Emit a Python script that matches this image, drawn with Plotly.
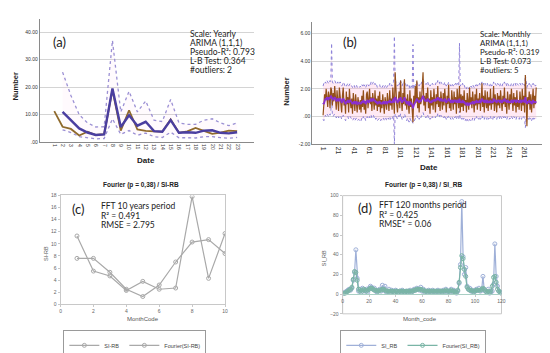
import plotly.graph_objects as go

W, H = 550, 353

# ---------------- Panel (a): yearly ----------------
years_a = list(range(1, 24))
obs_a = [11.3, 5.6, 4.8, 2.4, 3.8, 2.6, 2.9, 19.0, 4.2, 11.6, 4.6, 4.1, 3.9, 3.8, 8.3, 3.4, 3.9, 5.2, 4.1, 3.0, 3.5, 4.2, 4.0]
fit_a = [None, 11.0, 8.0, 5.0, 3.5, 2.6, 2.8, 19.5, 5.5, 9.8, 6.0, 7.4, 4.0, 3.8, 8.0, 3.4, 3.6, 3.4, 4.2, 4.3, 3.4, 3.2, 3.6]
ucl_a = [None, 25.5, 17.0, 10.0, 7.0, 5.5, 5.6, 37.0, 11.0, 18.5, 11.0, 15.0, 8.0, 7.5, 15.5, 7.0, 6.5, 6.5, 8.0, 8.5, 7.0, 6.0, 7.0]
lcl_a = [None, 4.5, 3.5, 2.0, 1.5, 1.2, 1.3, 8.5, 2.8, 4.2, 2.5, 3.3, 2.0, 1.7, 3.6, 1.6, 1.6, 1.5, 2.0, 2.0, 1.6, 1.4, 1.7]
yticks_a = [0, 10, 20, 30, 40]
yticklabels_a = [".00", "10.00", "20.00", "30.00", "40.00"]

# ---------------- Panel (b): monthly ----------------
months_b = list(range(1, 277))
obs_b = [
    0.1, 0.9, 1.6, 1.2, 2.0, 1.4, 0.7, 1.8, 1.5, 0.6, 2.1, 1.9,
    0.8, 1.7, 1.1, 2.2, 1.3, 0.5, 1.9, 1.0, 0.4, 2.1, 1.6, 0.9,
    0.3, 1.5, 2.1, 0.8, 1.2, 0.2, 1.8, 0.9, 1.4, 0.3, 2.0, 1.1,
    0.6, 1.3, 0.2, 1.7, 0.9, 0.4, 1.6, 1.1, 0.3, 1.4, 0.8, 0.5,
    1.2, 0.3, 1.5, 0.7, 1.9, 0.5, 1.1, 0.2, 1.6, 1.8, 0.6, 1.3,
    2.0, 0.9, 1.4, 0.4, 1.7, 1.2, 0.5, 1.9, 0.8, 1.3, 0.4, 1.5,
    0.7, 1.8, 0.3, 1.2, 0.6, 1.6, 1.0, 0.2, 1.4, 0.9, 0.5, 1.7,
    1.1, 0.4, 1.9, 0.8, 1.3, 0.5, 2.1, 1.0, 0.2, 3.2, 1.5, 0.9,
    0.3, 1.4, 1.8, 0.6, 2.6, 1.2, 0.4, 1.7, 0.9, 2.7, 0.8, 1.3,
    0.5, 1.6, 1.1, 0.2, 1.9, 0.7, 1.3, 0.4, -0.4, 1.5, 0.9, 2.2,
    1.0, 2.6, 0.6, 1.4, 0.3, 1.8, 0.9, 1.2, 2.0, 3.2, 0.8, 1.5,
    0.4, 1.7, 1.1, 2.1, 0.6, 1.3, 0.2, 1.9, 0.8, 1.4, 0.5, 2.0,
    1.2, 0.3, 1.6, 0.9, 2.2, 0.7, 1.4, 0.4, 1.8, 1.0, 0.5, 1.7,
    0.8, 2.0, 1.3, 0.3, 1.5, 0.9, 2.3, 0.6, 1.2, 0.4, 1.9, 1.1,
    0.5, 1.8, 0.9, 1.4, 0.2, 2.0, 1.1, 0.6, 2.2, 0.3, 1.6, 0.7,
    1.5, 0.4, 1.9, 0.8, 1.2, 0.3, 1.7, 1.0, 0.5, 2.1, 0.9, 1.4,
    0.6, 1.8, 1.2, 0.3, 1.6, 0.8, 2.0, 0.5, 1.3, 0.9, 1.7, 0.4,
    1.1, 2.4, 0.7, 1.5, 0.3, 1.9, 1.0, 0.6, 1.8, 0.4, 1.4, 0.8,
    2.0, 0.5, 1.3, 0.9, 2.2, 0.4, 1.6, 1.1, 0.3, 1.7, 0.8, 1.5,
    0.6, 1.9, 1.2, 0.4, 1.5, 0.9, 2.1, 0.7, 1.3, 0.2, 1.8, 1.0,
    0.5, 1.6, 0.9, 2.0, 1.1, 0.4, 1.7, 0.8, 1.4, 0.3, 1.9, 0.7,
    1.2, 0.5, 1.8, 1.0, 0.4, 2.0, 0.8, 1.5, 0.3, 3.0, 0.6, -0.7,
    1.4, 0.9, 1.8, 0.5, 1.6, 0.3, 1.2, 2.0, 0.6, 1.5, 0.9, 2.1,
]
fit_b = [
    1.0, 0.9, 1.1, 1.3, 1.2, 1.4, 1.3, 1.2, 1.4, 1.3, 1.5, 1.4,
    1.3, 1.2, 1.3, 1.4, 1.3, 1.1, 1.2, 1.3, 1.1, 1.2, 1.3, 1.2,
    1.0, 1.1, 1.3, 1.2, 1.1, 0.9, 1.0, 1.1, 1.2, 1.0, 1.1, 1.2,
    1.1, 1.0, 0.9, 1.0, 1.1, 0.9, 1.0, 1.1, 0.9, 1.0, 1.0, 0.9,
    1.0, 0.9, 1.1, 1.0, 1.2, 1.0, 1.1, 0.9, 1.0, 1.2, 1.1, 1.0,
    1.2, 1.1, 1.3, 1.1, 1.2, 1.3, 1.1, 1.2, 1.0, 1.1, 0.9, 1.0,
    1.0, 1.1, 0.9, 1.0, 0.9, 1.0, 1.1, 0.9, 1.0, 1.1, 0.9, 1.0,
    1.1, 1.0, 1.2, 1.0, 1.1, 1.0, 1.2, 1.3, 1.0, 1.4, 1.3, 1.1,
    1.0, 1.1, 1.3, 1.1, 1.4, 1.2, 1.0, 1.2, 1.1, 1.4, 1.2, 1.1,
    0.9, 1.1, 1.0, 0.8, 1.1, 0.9, 1.0, 0.7, 0.6, 0.8, 0.9, 1.1,
    1.1, 1.3, 1.1, 1.2, 1.0, 1.2, 1.1, 1.2, 1.3, 1.5, 1.3, 1.2,
    1.1, 1.2, 1.1, 1.3, 1.1, 1.2, 1.0, 1.1, 1.0, 1.2, 1.1, 1.2,
    1.2, 1.1, 1.3, 1.2, 1.4, 1.2, 1.3, 1.1, 1.3, 1.2, 1.1, 1.2,
    1.1, 1.3, 1.2, 1.0, 1.2, 1.1, 1.3, 1.2, 1.1, 1.0, 1.2, 1.1,
    1.0, 1.2, 1.1, 1.2, 1.0, 1.2, 1.1, 1.0, 1.3, 1.0, 1.1, 1.0,
    1.2, 1.0, 1.1, 0.9, 1.0, 0.8, 1.0, 0.9, 0.8, 1.0, 0.9, 1.0,
    0.9, 1.1, 1.0, 0.9, 1.1, 1.0, 1.2, 1.0, 1.1, 1.0, 1.2, 1.0,
    1.1, 1.3, 1.1, 1.2, 1.0, 1.2, 1.1, 1.0, 1.2, 1.0, 1.1, 1.0,
    1.2, 1.0, 1.1, 1.0, 1.3, 1.1, 1.2, 1.1, 1.0, 1.2, 1.1, 1.2,
    1.0, 1.2, 1.1, 1.0, 1.2, 1.1, 1.3, 1.1, 1.2, 1.0, 1.2, 1.1,
    1.0, 1.1, 1.0, 1.2, 1.1, 1.0, 1.2, 1.1, 1.2, 1.0, 1.2, 1.1,
    1.1, 1.0, 1.2, 1.1, 1.0, 1.2, 1.1, 1.2, 1.0, 1.4, 1.2, 0.9,
    1.1, 1.0, 1.2, 1.0, 1.1, 0.9, 1.0, 1.2, 1.0, 1.1, 1.0, 1.1,
]
ucl_b = [
    2.2, 2.4, 2.3, 2.5, 2.4, 2.6, 2.5, 2.4, 2.6, 2.5, 2.7, 5.3,
    2.5, 2.4, 2.5, 2.6, 2.5, 2.3, 2.4, 2.5, 2.3, 2.4, 2.5, 2.4,
    2.2, 2.3, 2.5, 2.4, 2.3, 2.1, 2.2, 2.3, 2.4, 2.2, 2.3, 2.4,
    2.3, 2.2, 2.1, 2.2, 2.3, 2.1, 2.2, 2.3, 2.1, 2.2, 2.2, 2.1,
    2.2, 2.1, 2.3, 2.2, 2.4, 2.2, 2.3, 2.1, 2.2, 2.4, 2.3, 2.2,
    2.4, 2.3, 2.5, 2.3, 2.4, 2.5, 2.3, 2.4, 2.2, 2.3, 2.1, 2.2,
    2.2, 2.3, 2.1, 2.2, 2.1, 2.2, 2.3, 2.1, 2.2, 2.3, 2.1, 2.2,
    2.3, 2.2, 2.4, 2.2, 2.3, 2.2, 2.4, 2.5, 5.8, 2.6, 2.5, 2.3,
    2.2, 2.3, 2.5, 2.3, 2.6, 2.4, 2.2, 2.4, 2.3, 2.6, 2.4, 2.3,
    2.1, 2.3, 2.2, 2.0, 2.3, 2.1, 2.2, 2.0, 5.2, 2.0, 2.1, 2.3,
    2.3, 2.5, 2.3, 2.4, 2.2, 2.4, 2.3, 2.4, 2.5, 2.7, 2.5, 2.4,
    2.3, 2.4, 2.3, 2.5, 2.3, 2.4, 2.2, 2.3, 2.2, 2.4, 2.3, 2.4,
    2.4, 2.3, 2.5, 2.4, 2.6, 2.4, 2.5, 2.3, 2.5, 2.4, 2.3, 2.4,
    2.3, 2.5, 2.4, 2.2, 2.4, 2.3, 2.5, 2.4, 2.3, 2.2, 2.4, 2.3,
    2.2, 2.4, 2.3, 2.4, 2.2, 2.4, 2.3, 2.2, 5.3, 2.2, 2.3, 2.2,
    2.4, 2.2, 2.3, 2.1, 2.2, 2.0, 2.2, 2.1, 2.0, 2.2, 2.1, 2.2,
    2.1, 2.3, 2.2, 2.1, 2.3, 2.2, 2.4, 2.2, 2.3, 2.2, 2.4, 2.2,
    2.3, 2.5, 2.3, 2.4, 2.2, 2.4, 2.3, 2.2, 2.4, 2.2, 2.3, 2.2,
    2.4, 2.2, 2.3, 2.2, 2.5, 2.3, 2.4, 2.3, 2.2, 2.4, 2.3, 2.4,
    2.2, 2.4, 2.3, 2.2, 2.4, 2.3, 2.5, 2.3, 2.4, 2.2, 2.4, 2.3,
    2.2, 2.3, 2.2, 2.4, 2.3, 2.2, 2.4, 2.3, 2.4, 2.2, 2.4, 2.3,
    2.3, 2.2, 2.4, 2.3, 2.2, 2.4, 2.3, 2.4, 2.2, 3.0, 2.4, 2.1,
    2.3, 2.2, 2.4, 2.2, 2.3, 2.1, 2.2, 2.4, 2.2, 2.3, 2.2, 2.3,
]
lcl_b = [
    -0.2, -0.3, -0.1, 0.1, 0.0, 0.2, 0.1, 0.0, 0.2, 0.1, 0.3, 1.5,
    0.1, 0.0, 0.1, 0.2, 0.1, -0.1, 0.0, 0.1, -0.1, 0.0, 0.1, 0.0,
    -0.2, -0.1, 0.1, 0.0, -0.1, -0.3, -0.2, -0.1, 0.0, -0.2, -0.1, 0.0,
    -0.1, -0.2, -0.3, -0.2, -0.1, -0.3, -0.2, -0.1, -0.3, -0.2, -0.2, -0.3,
    -0.2, -0.3, -0.1, -0.2, 0.0, -0.2, -0.1, -0.3, -0.2, 0.0, -0.1, -0.2,
    0.0, -0.1, 0.1, -0.1, 0.0, 0.1, -0.1, 0.0, -0.2, -0.1, -0.3, -0.2,
    -0.2, -0.1, -0.3, -0.2, -0.3, -0.2, -0.1, -0.3, -0.2, -0.1, -0.3, -0.2,
    -0.1, -0.2, 0.0, -0.2, -0.1, -0.2, 0.0, 0.1, -2.0, 0.2, 0.1, -0.1,
    -0.2, -0.1, 0.1, -0.1, 0.2, 0.0, -0.2, 0.0, -0.1, 0.2, 0.0, -0.1,
    -0.3, -0.1, -0.2, -0.4, -0.1, -0.3, -0.2, -0.4, -0.5, -0.4, -0.3, -0.1,
    -0.1, 0.1, -0.1, 0.0, -0.2, 0.0, -0.1, 0.0, 0.1, 0.3, 0.1, 0.0,
    -0.1, 0.0, -0.1, 0.1, -0.1, 0.0, -0.2, -0.1, -0.2, 0.0, -0.1, 0.0,
    0.0, -0.1, 0.1, 0.0, 0.2, 0.0, 0.1, -0.1, 0.1, 0.0, -0.1, 0.0,
    -0.1, 0.1, 0.0, -0.2, 0.0, -0.1, 0.1, 0.0, -0.1, -0.2, 0.0, -0.1,
    -0.2, 0.0, -0.1, 0.0, -0.2, 0.0, -0.1, -0.2, 0.4, -0.2, -0.1, -0.2,
    0.0, -0.2, -0.1, -0.3, -0.2, -0.4, -0.2, -0.3, -0.4, -0.2, -0.3, -0.2,
    -0.3, -0.1, -0.2, -0.3, -0.1, -0.2, 0.0, -0.2, -0.1, -0.2, 0.0, -0.2,
    -0.1, 0.1, -0.1, 0.0, -0.2, 0.0, -0.1, -0.2, 0.0, -0.2, -0.1, -0.2,
    0.0, -0.2, -0.1, -0.2, 0.1, -0.1, 0.0, -0.1, -0.2, 0.0, -0.1, 0.0,
    -0.2, 0.0, -0.1, -0.2, 0.0, -0.1, 0.1, -0.1, 0.0, -0.2, 0.0, -0.1,
    -0.2, -0.1, -0.2, 0.0, -0.1, -0.2, 0.0, -0.1, 0.0, -0.2, 0.0, -0.1,
    -0.1, -0.2, 0.0, -0.1, -0.2, 0.0, -0.1, 0.0, -0.2, -0.8, 0.0, -0.3,
    -0.1, -0.2, 0.0, -0.2, -0.1, -0.3, -0.2, 0.0, -0.2, -0.1, -0.2, -0.1,
]
xticks_b = [1, 21, 41, 61, 81, 101, 121, 141, 161, 181, 201, 221, 241, 261]
yticks_b = [-2, 0, 2, 4, 6]
yticklabels_b = ["-2.00", ".00", "2.00", "4.00", "6.00"]

# ---------------- Panel (c): Fourier yearly ----------------
code_c = [1, 2, 3, 4, 5, 6, 7, 8, 9, 10]
si_rb_c = [11.3, 5.5, 4.7, 2.3, 3.8, 2.5, 2.7, 17.8, 4.3, 11.7]
fourier_c = [7.6, 7.6, 5.3, 2.5, 1.3, 3.2, 7.0, 10.3, 10.7, 8.4]

# ---------------- Panel (d): Fourier monthly ----------------
code_d = list(range(1, 121))
si_rb_d = [
    1, 2, 3, 4, 5, 4, 6, 14, 22, 45, 16, 3,
    5, 2, 6, 4, 3, 5, 2, 6, 8, 7, 5, 6,
    3, 2, 4, 5, 3, 9, 4, 8, 2, 3, 5, 2,
    4, 3, 2, 4, 3, 2, 3, 2, 4, 3, 2, 3,
    2, 3, 4, 2, 3, 5, 4, 6, 5, 4, 7, 3,
    5, 2, 3, 2, 4, 3, 2, 4, 3, 2, 3, 4,
    2, 3, 2, 4, 3, 5, 2, 3, 2, 5, 3, 4,
    2, 1, 3, 11, 30, 94, 38, 20, 27, 8, 5, 6,
    3, 4, 2, 3, 5, 4, 6, 3, 4, 18, 4, 3,
    2, 5, 1, 2, 3, 10, 51, 18, 8, 3, 2, 1,
]
fourier_d = [
    1, 1, 2, 3, 4, 5, 7, 15, 23, 22, 14, 5,
    3, 4, 3, 5, 4, 3, 4, 5, 6, 6, 5, 4,
    4, 3, 3, 4, 4, 5, 5, 4, 3, 3, 3, 3,
    3, 3, 2, 3, 3, 2, 3, 3, 3, 3, 2, 3,
    3, 3, 3, 3, 3, 4, 4, 5, 5, 5, 5, 4,
    4, 3, 3, 3, 3, 3, 3, 3, 3, 3, 3, 3,
    3, 3, 3, 3, 3, 4, 3, 3, 3, 4, 3, 3,
    2, 2, 4, 12, 27, 39, 36, 25, 18, 7, 5, 4,
    4, 3, 3, 3, 4, 4, 4, 4, 5, 6, 5, 3,
    2, 3, 2, 3, 8, 17, 18, 12, 5, 3, 2, 1,
]


def px(x, y):
    return x / W, 1 - y / H


def dom_x(a, b):
    return [a / W, b / W]


def dom_y(top, bottom):
    return [1 - bottom / H, 1 - top / H]


fig = go.Figure()

# Panel (a) traces
fig.add_trace(go.Scatter(x=years_a, y=lcl_a, mode="lines", line=dict(width=0), showlegend=False,
                         xaxis="x", yaxis="y", hoverinfo="skip"))
fig.add_trace(go.Scatter(x=years_a, y=ucl_a, mode="lines", line=dict(width=0), fill="tonexty",
                         fillcolor="rgba(255,180,220,0.07)", showlegend=False, xaxis="x", yaxis="y",
                         hoverinfo="skip"))
fig.add_trace(go.Scatter(x=years_a, y=ucl_a, mode="lines", line=dict(color="#9b90d4", width=1.3, dash="dot"),
                         showlegend=False, xaxis="x", yaxis="y"))
fig.add_trace(go.Scatter(x=years_a, y=lcl_a, mode="lines", line=dict(color="#9b90d4", width=1.3, dash="dot"),
                         showlegend=False, xaxis="x", yaxis="y"))
fig.add_trace(go.Scatter(x=years_a, y=obs_a, mode="lines", line=dict(color="#8f6a2c", width=1.8),
                         showlegend=False, xaxis="x", yaxis="y"))
fig.add_trace(go.Scatter(x=years_a, y=fit_a, mode="lines", line=dict(color="#4a3ea0", width=2.4),
                         showlegend=False, xaxis="x", yaxis="y"))

# Panel (b) traces
fig.add_trace(go.Scatter(x=months_b, y=lcl_b, mode="lines", line=dict(width=0), showlegend=False,
                         xaxis="x2", yaxis="y2", hoverinfo="skip"))
fig.add_trace(go.Scatter(x=months_b, y=ucl_b, mode="lines", line=dict(width=0), fill="tonexty",
                         fillcolor="rgba(255,175,215,0.28)", showlegend=False, xaxis="x2", yaxis="y2",
                         hoverinfo="skip"))
fig.add_trace(go.Scatter(x=months_b, y=ucl_b, mode="lines", line=dict(color="#8c82d8", width=1, dash="dot"),
                         showlegend=False, xaxis="x2", yaxis="y2"))
fig.add_trace(go.Scatter(x=months_b, y=lcl_b, mode="lines", line=dict(color="#8c82d8", width=1, dash="dot"),
                         showlegend=False, xaxis="x2", yaxis="y2"))
fig.add_trace(go.Scatter(x=months_b, y=obs_b, mode="lines", line=dict(color="#94501a", width=1.2),
                         showlegend=False, xaxis="x2", yaxis="y2"))
fig.add_trace(go.Scatter(x=months_b, y=fit_b, mode="lines", line=dict(color="#8a2fd0", width=1.8),
                         showlegend=False, xaxis="x2", yaxis="y2"))

# Panel (c) traces
gray = "#a9a9a9"
fig.add_trace(go.Scatter(x=code_c, y=si_rb_c, mode="lines+markers", name="SI-RB",
                         line=dict(color=gray, width=1.2),
                         marker=dict(symbol="circle-open", size=4, color=gray, line=dict(width=1)),
                         xaxis="x3", yaxis="y3", legend="legend"))
fig.add_trace(go.Scatter(x=code_c, y=fourier_c, mode="lines+markers", name="Fourier(SI-RB)",
                         line=dict(color=gray, width=1.2),
                         marker=dict(symbol="circle-open", size=4, color=gray, line=dict(width=1)),
                         xaxis="x3", yaxis="y3", legend="legend"))

# Panel (d) traces
blue_d = "#9fb0d8"
teal_d = "#7ab5a6"
fig.add_trace(go.Scatter(x=code_d, y=si_rb_d, mode="lines+markers", name="SI_RB",
                         line=dict(color=blue_d, width=1.2),
                         marker=dict(symbol="circle-open", size=4, color=blue_d, line=dict(width=1)),
                         xaxis="x4", yaxis="y4", legend="legend2"))
fig.add_trace(go.Scatter(x=code_d, y=fourier_d, mode="lines+markers", name="Fourier(SI_RB)",
                         line=dict(color=teal_d, width=1.2),
                         marker=dict(symbol="circle-open", size=4, color=teal_d, line=dict(width=1)),
                         xaxis="x4", yaxis="y4", legend="legend2"))

tickfont_small = dict(family="Liberation Sans, Arial", size=5, color="#333")
tickfont_gray = dict(family="Liberation Sans, Arial", size=5, color="#666")

fig.update_layout(
    width=W, height=H, margin=dict(l=0, r=0, t=0, b=0),
    paper_bgcolor="white", plot_bgcolor="rgba(0,0,0,0)",
    xaxis=dict(domain=dom_x(31, 247), anchor="y", range=[-0.75, 25.0], tickmode="array",
               tickvals=years_a, ticktext=[str(v) for v in years_a], tickangle=90,
               tickfont=tickfont_small, showgrid=False, zeroline=False, showline=True,
               linecolor="#8a8a8a", linewidth=1, ticks=""),
    yaxis=dict(domain=dom_y(8, 139), anchor="x", range=[0, 45], tickmode="array",
               tickvals=yticks_a, ticktext=yticklabels_a, tickfont=tickfont_small,
               showgrid=True, gridcolor="#d4d4d4", gridwidth=1, zeroline=False, showline=True,
               linecolor="#8a8a8a", linewidth=1, ticks=""),
    xaxis2=dict(domain=dom_x(306, 543), anchor="y2", range=[-13, 290], tickmode="array",
                tickvals=xticks_b, ticktext=[str(v) for v in xticks_b], tickangle=90,
                tickfont=dict(family="Liberation Sans, Arial", size=7, color="#333"),
                showgrid=False, zeroline=False, showline=True, linecolor="#8a8a8a", linewidth=1, ticks=""),
    yaxis2=dict(domain=dom_y(12, 141.3), anchor="x2", range=[-2, 6.8], tickmode="array",
                tickvals=yticks_b, ticktext=yticklabels_b, tickfont=tickfont_small,
                showgrid=True, gridcolor="#d4d4d4", gridwidth=1, zeroline=False, showline=True,
                linecolor="#8a8a8a", linewidth=1, ticks=""),
    xaxis3=dict(domain=dom_x(52, 218), anchor="y3", range=[0, 10], dtick=2,
                tickfont=tickfont_gray, showgrid=False, zeroline=False, showline=True, mirror=True,
                linecolor="#c8c8c8", linewidth=1, ticks="outside", ticklen=2, tickcolor="#c8c8c8"),
    yaxis3=dict(domain=dom_y(195.5, 311), anchor="x3", range=[0, 18], dtick=2,
                tickfont=tickfont_gray, showgrid=False, zeroline=False, showline=True, mirror=True,
                linecolor="#c8c8c8", linewidth=1, ticks="outside", ticklen=2, tickcolor="#c8c8c8"),
    xaxis4=dict(domain=dom_x(336.7, 497), anchor="free", position=1 - 300 / H, range=[0, 120], dtick=20,
                tickfont=tickfont_gray, showgrid=False, zeroline=False, showline=True,
                linecolor="#a9cfc4", linewidth=1, ticks="outside", ticklen=2, tickcolor="#c8c8c8"),
    yaxis4=dict(domain=dom_y(195.7, 321), anchor="x4", range=[-20, 100], dtick=20,
                tickfont=tickfont_gray, showgrid=False, zeroline=False,
                showline=True, mirror=False, linecolor="#c8c8c8",
                linewidth=1, ticks="outside", ticklen=2, tickcolor="#c8c8c8"),
    shapes=[dict(type="rect", xref="x4 domain", yref="y4 domain", x0=0, x1=1, y0=0, y1=1,
                 line=dict(color="#c8c8c8", width=1), fillcolor="rgba(0,0,0,0)", layer="below")],
    legend=dict(orientation="h", x=127 / W, y=1 - 338 / H, xanchor="center", yanchor="top",
                font=dict(family="Liberation Sans, Arial", size=5.5, color="#444"),
                bordercolor="#9a9a9a", borderwidth=1, bgcolor="white",
                itemwidth=30, traceorder="normal"),
    legend2=dict(orientation="h", x=408 / W, y=1 - 338 / H, xanchor="center", yanchor="top",
                 font=dict(family="Liberation Sans, Arial", size=5.5, color="#444"),
                 bordercolor="#9a9a9a", borderwidth=1, bgcolor="white",
                 itemwidth=30, traceorder="normal"),
)

annots = []
TXT_FONT = "Lato, Liberation Sans, Arial"


def add_text(x, y, text, size, bold=False, anchor="left", angle=0, color="#222", family=TXT_FONT):
    ax, ay = px(x, y)
    t = "<b>" + text + "</b>" if bold else text
    annots.append(dict(x=ax, y=ay, xref="paper", yref="paper", text=t, showarrow=False,
                       xanchor=anchor, yanchor="middle", textangle=angle,
                       font=dict(size=size, color=color, family=family)))


# Panel (a) labels
add_text(42, 33, "(a)", 13)
for i, line in enumerate(["Scale: Yearly", "ARIMA (1,1,1)", "Pseudo-R²: 0.793",
                          "L-B Test: 0.364", "#outliers: 2"]):
    add_text(181, 24 + 9.7 * i, line, 8.5)
add_text(7, 80, "Number", 7.5, bold=True, anchor="center", angle=-90, family="Liberation Sans, Arial")
add_text(138, 159, "Date", 8, bold=True, anchor="center", family="Liberation Sans, Arial")

# Panel (b) labels
add_text(335, 33, "(b)", 13)
for i, line in enumerate(["Scale: Monthly", "ARIMA (1,1,1)", "Pseudo-R²: 0.319",
                          "L-B Test: 0.073", "#outliers: 5"]):
    add_text(473, 24 + 9.7 * i, line, 7.8)
add_text(280, 85, "Number", 7.5, bold=True, anchor="center", angle=-90, family="Liberation Sans, Arial")
add_text(424, 166, "Date", 8, bold=True, anchor="center", family="Liberation Sans, Arial")

# Panel (c) labels
add_text(133, 184, "Fourier (p = 0,38) / SI-RB", 6.5, bold=True, anchor="center", family="Liberation Sans, Arial")
add_text(62, 210, "(c)", 13)
add_text(91, 207, "FFT 10 years period", 8.5)
add_text(91, 217, "R² = 0.491", 8.5)
add_text(91, 227, "RMSE = 2.795", 8.5)
add_text(38, 257, "SI-RB", 5.5, anchor="center", angle=-90, color="#555", family="Liberation Sans, Arial")
add_text(135, 326, "MonthCode", 6, anchor="center", color="#555", family="Liberation Sans, Arial")

# Panel (d) labels
add_text(418, 184, "Fourier (p = 0,38) / SI_RB", 6.5, bold=True, anchor="center", family="Liberation Sans, Arial")
add_text(350, 209, "(d)", 13)
add_text(371, 206, "FFT 120 months period", 8.5)
add_text(371, 216, "R² = 0.425", 8.5)
add_text(371, 226, "RMSE* = 0.06", 8.5)
add_text(318, 262, "SI_RB", 5.5, anchor="center", angle=-90, color="#555", family="Liberation Sans, Arial")
add_text(415, 326, "Month_code", 6, anchor="center", color="#555", family="Liberation Sans, Arial")

fig.update_layout(annotations=annots)

fig.write_html("out.html")
